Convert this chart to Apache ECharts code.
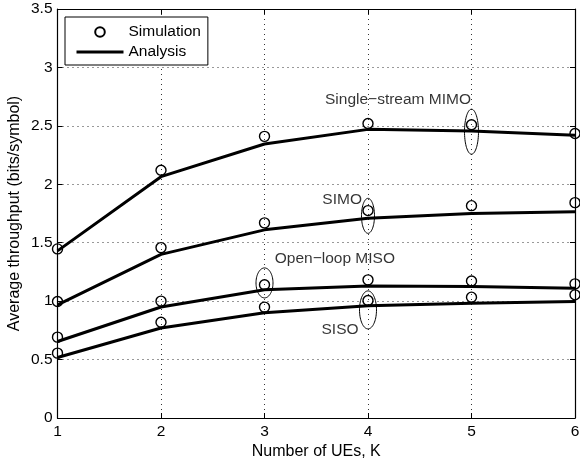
<!DOCTYPE html>
<html><head><meta charset="utf-8">
<script src="https://cdn.jsdelivr.net/npm/echarts@6/dist/echarts.min.js"></script>
<style>html,body{margin:0;padding:0;background:#fff}#c{width:580px;height:464px}</style>
</head><body><div id="c"></div>
<script>
// ---- data ----
const numUEs = [1, 2, 3, 4, 5, 6];
const mimoSim = [1.447, 2.12, 2.41, 2.52, 2.51, 2.435];
const mimoAna = [1.43, 2.065, 2.345, 2.47, 2.455, 2.42];
const simoSim = [0.997, 1.458, 1.67, 1.775, 1.817, 1.843];
const simoAna = [0.968, 1.40, 1.61, 1.71, 1.75, 1.765];
const misoSim = [0.692, 1.0, 1.14, 1.182, 1.173, 1.148];
const misoAna = [0.655, 0.95, 1.097, 1.13, 1.125, 1.11];
const sisoSim = [0.555, 0.82, 0.949, 1.005, 1.034, 1.054];
const sisoAna = [0.518, 0.77, 0.90, 0.96, 0.983, 0.997];
const curveLabels = ['Single\u2212stream MIMO', 'SIMO', 'Open\u2212loop MISO', 'SISO'];
const labelX = [4.29, 3.75, 3.68, 3.73];
const labelY = [2.72, 1.866, 1.36, 0.755];
const ellipseX = [5, 4, 3, 4];
const ellipseY = [2.45, 1.73, 1.156, 0.925];
const xTicks = [1, 2, 3, 4, 5, 6];
const yTicks = [0, 0.5, 1, 1.5, 2, 2.5, 3, 3.5];

// ---- styles ----
const FONT = 'Liberation Sans, Arial, Helvetica, sans-serif';
const FS = 15.5;
const ellipseRadiiPx = [[7, 22.5], [6.5, 17.5], [8.5, 15], [8.5, 19]];
const pairs = (xs, ys) => xs.map((x, i) => [x, ys[i]]);

const simSeries = [mimoSim, simoSim, misoSim, sisoSim].map(v => ({
  name: 'Simulation', type: 'line', data: pairs(numUEs, v), z: 4,
  symbol: 'circle', symbolSize: 10, showSymbol: true,
  lineStyle: { width: 0, opacity: 0 },
  itemStyle: { color: 'rgba(255,255,255,0)', borderColor: '#000', borderWidth: 1.4 },
  emphasis: { disabled: true }, clip: false
}));
const anaSeries = [mimoAna, simoAna, misoAna, sisoAna].map(v => ({
  name: 'Analysis', type: 'line', data: pairs(numUEs, v), z: 3,
  symbol: 'none', lineStyle: { width: 3, color: '#000' }, itemStyle: { color: '#000' },
  emphasis: { disabled: true }
}));

const ellipseSeries = {
  type: 'custom', z: 5, silent: true, clip: false,
  data: pairs(ellipseX, ellipseY),
  renderItem: (params, api) => {
    const c = api.coord([api.value(0), api.value(1)]);
    const r = ellipseRadiiPx[params.dataIndex];
    const pts = [];
    for (let k = 0; k < 72; k++) {
      const t = k / 72 * Math.PI * 2;
      pts.push([c[0] + r[0] * Math.cos(t), c[1] + r[1] * Math.sin(t)]);
    }
    return { type: 'polygon', shape: { points: pts }, style: { fill: 'none', stroke: '#000', lineWidth: 1 } };
  }
};
const labelSeries = {
  type: 'scatter', z: 6, silent: true,
  data: pairs(labelX, labelY), symbolSize: 1,
  itemStyle: { color: 'rgba(0,0,0,0)' },
  label: { show: true, position: 'inside', formatter: p => curveLabels[p.dataIndex],
    color: '#000', fontSize: FS, fontFamily: FONT, textBorderWidth: 0, textBorderColor: 'transparent' }
};

const axisLine = { show: true, onZero: false, lineStyle: { color: '#000', width: 1.2 } };
const tick = { show: true, inside: true, length: 5, lineStyle: { color: '#000', width: 1 } };
const split = { show: true, lineStyle: { color: '#333', width: 1, type: [1, 4] } };

const chart = echarts.init(document.getElementById('c'));
chart.setOption({
  animation: false,
  backgroundColor: '#fff',
  textStyle: { fontFamily: FONT },
  grid: { left: 57.5, right: 5, top: 9, bottom: 46, containLabel: false, outerBoundsMode: 'none' },
  legend: {
    data: [{ name: 'Simulation' },
           { name: 'Analysis', itemStyle: { opacity: 0 }, lineStyle: { width: 3, color: '#000', opacity: 1 } }],
    orient: 'vertical', left: 65, top: 17, padding: [7, 7, 5, 10],
    itemWidth: 47, itemHeight: 12, itemGap: 4, selectedMode: false,
    borderColor: '#000', borderWidth: 1, backgroundColor: '#fff',
    textStyle: { fontSize: FS, color: '#000', fontFamily: FONT }
  },
  xAxis: [
    { type: 'value', min: xTicks[0], max: xTicks[xTicks.length - 1], interval: 1,
      axisLine, axisTick: tick, splitLine: split,
      axisLabel: { fontSize: FS, color: '#000', margin: 6, fontFamily: FONT },
      name: 'Number of UEs, K', nameLocation: 'middle', nameGap: 26, nameMoveOverlap: false,
      nameTextStyle: { fontSize: 16, color: '#000', fontFamily: FONT } },
    { type: 'value', position: 'top', min: 1, max: 6, interval: 1,
      axisLine, axisTick: tick, splitLine: { show: false }, axisLabel: { show: false } }
  ],
  yAxis: [
    { type: 'value', min: yTicks[0], max: yTicks[yTicks.length - 1], interval: 0.5,
      axisLine, axisTick: tick, splitLine: split,
      axisLabel: { fontSize: FS, color: '#000', margin: 5, fontFamily: FONT },
      name: 'Average throughput (bits/symbol)', nameLocation: 'middle', nameGap: 35, nameMoveOverlap: false,
      nameTextStyle: { fontSize: 16, color: '#000', fontFamily: FONT } },
    { type: 'value', position: 'right', min: 0, max: 3.5, interval: 0.5,
      axisLine, axisTick: tick, splitLine: { show: false }, axisLabel: { show: false } }
  ],
  series: [...anaSeries, ...simSeries, ellipseSeries, labelSeries]
});
</script>
</body></html>
